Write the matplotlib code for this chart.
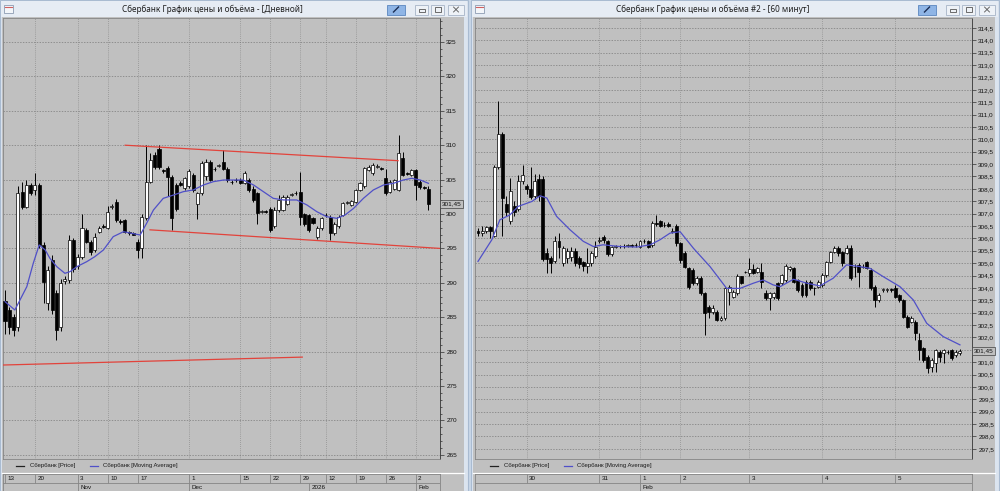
import numpy as np
import matplotlib.pyplot as plt
from matplotlib.patches import Rectangle
from matplotlib.ticker import MultipleLocator
from matplotlib.transforms import offset_copy, blended_transform_factory

plt.rcParams['font.family'] = ['Liberation Sans', 'DejaVu Sans']

# ---- daily candles (Oct 13 2025 .. Feb 5 2026, weekend sessions included) ----
day_open = [287.3, 286.0, 285.0, 283.6, 303.2, 301.0, 304.2, 303.5, 304.2, 295.5,
            287.0, 293.3, 288.5, 283.6, 290.2, 290.4, 296.2, 292.5, 293.8, 297.7,
            296.0, 294.8, 297.4, 298.2, 298.0, 301.0, 301.7, 299.0, 299.1, 297.4,
            297.2, 296.0, 295.0, 299.4, 304.7, 308.6, 309.5, 306.4, 306.7, 305.4,
            304.2, 304.5, 303.8, 304.0, 305.7, 301.5, 303.0, 305.5, 307.6, 306.6,
            307.0, 307.6, 306.6, 304.7, 304.9, 305.0, 304.5, 305.0, 303.7, 303.0,
            300.3, 300.4, 300.8, 298.2, 300.6, 300.6, 301.5, 302.8, 303.0, 303.2,
            300.0, 299.9, 299.4, 296.7, 297.9, 299.8, 299.6, 297.2, 298.2, 299.9,
            301.6, 301.3, 301.8, 303.5, 304.0, 306.4, 305.9, 306.9, 306.7, 305.2,
            303.2, 303.7, 303.5, 308.1, 305.9, 305.7, 306.4, 304.7, 303.9, 303.7]
day_high = [289.0, 286.5, 285.5, 304.0, 304.7, 305.0, 304.5, 306.0, 304.5, 296.0,
            292.5, 294.0, 289.0, 290.5, 291.0, 297.0, 296.5, 294.2, 300.0, 298.0,
            296.2, 297.2, 298.2, 298.5, 301.2, 301.4, 302.2, 299.3, 299.3, 297.6,
            297.4, 296.3, 300.0, 310.0, 308.8, 309.0, 310.0, 306.6, 307.0, 305.6,
            304.5, 304.8, 305.4, 306.5, 306.0, 303.2, 307.7, 308.0, 307.8, 306.8,
            307.3, 309.3, 306.9, 304.9, 305.2, 305.3, 306.2, 305.2, 304.0, 303.2,
            300.6, 300.6, 301.0, 301.0, 302.8, 302.8, 302.8, 303.1, 303.3, 306.1,
            300.2, 300.0, 299.6, 298.2, 299.6, 300.1, 299.8, 298.8, 299.9, 301.8,
            301.9, 302.1, 303.7, 304.7, 306.9, 307.1, 307.4, 307.3, 306.9, 306.6,
            305.0, 305.1, 311.5, 309.0, 306.1, 306.6, 306.6, 304.9, 304.1, 304.0]
day_low = [282.6, 282.5, 282.3, 283.0, 300.8, 300.9, 302.8, 302.8, 295.0, 287.0,
           286.0, 285.5, 281.7, 283.0, 289.8, 290.0, 291.5, 292.0, 293.5, 295.8,
           294.0, 294.5, 297.2, 297.9, 297.8, 300.8, 298.8, 298.6, 297.2, 297.0,
           296.9, 293.6, 293.6, 299.2, 304.5, 306.5, 306.5, 306.0, 302.6, 297.7,
           300.5, 304.0, 303.5, 303.8, 303.2, 299.3, 302.8, 305.0, 304.8, 306.3,
           306.8, 306.4, 304.6, 304.4, 304.7, 304.3, 304.3, 303.2, 301.8, 298.6,
           300.1, 300.1, 297.4, 298.0, 300.3, 300.4, 301.3, 302.6, 302.8, 298.4,
           298.3, 297.4, 298.5, 296.4, 297.7, 299.6, 296.2, 297.0, 298.0, 299.7,
           301.4, 301.1, 301.6, 303.3, 303.8, 306.2, 305.7, 306.7, 306.4, 302.8,
           303.0, 303.5, 303.3, 305.5, 305.6, 305.5, 302.0, 303.7, 303.6, 300.6]
day_close = [284.5, 283.6, 283.1, 303.0, 301.0, 304.2, 303.0, 304.2, 295.5, 290.1,
             291.9, 286.0, 283.1, 289.9, 290.5, 296.2, 292.0, 293.8, 298.0, 296.0,
             294.5, 296.7, 297.9, 298.1, 300.3, 301.1, 299.1, 298.9, 297.4, 297.2,
             297.0, 294.8, 299.6, 304.7, 307.8, 306.8, 306.8, 306.2, 305.4, 299.4,
             300.8, 304.2, 305.2, 306.2, 303.5, 303.0, 307.4, 307.6, 305.0, 306.5,
             307.1, 306.6, 304.9, 304.6, 305.0, 304.5, 305.9, 303.5, 302.0, 300.1,
             300.4, 300.3, 297.7, 300.6, 302.0, 302.5, 302.5, 302.9, 303.0, 299.6,
             298.6, 297.7, 298.7, 298.0, 299.4, 299.9, 297.2, 298.6, 299.6, 301.6,
             301.7, 301.9, 303.5, 304.5, 306.7, 306.9, 307.1, 307.0, 306.6, 303.0,
             304.7, 304.9, 308.8, 305.7, 305.8, 306.4, 304.2, 303.9, 303.8, 301.45]
day_ma_idx = [0, 2.3, 5.1, 6.6, 8.0, 9.4, 10.5, 12.1, 14.0, 15.2, 16.8, 19.1, 21.0,
              23.0, 25.3, 27.7, 29.6, 31.6, 33.1, 34.7, 37.0, 39.4, 41.7, 44.0, 46.4,
              48.7, 51.1, 52.6, 55.7, 58.1, 60.4, 62.7, 65.1, 68.2, 70.6, 72.9, 75.2,
              77.6, 79.5, 81.5, 83.8, 86.1, 88.5, 90.8, 93.1, 95.1, 97.1, 99.0]
day_ma_val = [287.26, 286.05, 289.44, 292.83, 295.5, 294.77, 293.56, 292.35, 291.38,
              291.62, 292.35, 293.07, 293.8, 294.77, 296.71, 297.43, 297.19, 296.95,
              298.64, 300.58, 302.28, 302.76, 303.25, 303.49, 304.22, 304.7, 304.94,
              304.94, 304.94, 304.22, 303.25, 302.28, 302.04, 302.04, 301.31, 300.34,
              299.61, 299.37, 299.86, 300.82, 302.28, 303.49, 304.22, 304.46, 304.94,
              305.19, 304.94, 304.46]
day_week_idx = [0, 7, 17, 24, 31, 43, 55, 62, 69, 75, 82, 89, 96]
day_week_lbl = ["13", "20", "3", "10", "17", "1", "15", "22", "29", "12", "19", "26", "2"]
day_month_idx = [17, 43, 71, 96]
day_month_lbl = ["Nov", "Dec", "2026", "Feb"]
# hand-drawn red trend lines: start/end candle and price
trend_idx = [(28.1, 91.9), (33.9, 101.7), (-0.5, 69.5)]
trend_val = [(310.0, 307.75), (297.7, 295.0), (278.05, 279.2)]

# ---- 60 minute candles (Jan 29 .. Feb 5) ----
hr_open = [306.28, 306.2, 306.28, 306.45, 306.1, 308.9, 310.2, 307.4, 306.7, 307.3,
           307.2, 308.3, 308.1, 308.0, 307.7, 308.4, 308.4, 305.4, 305.2, 305.1,
           305.88, 305.0, 305.2, 305.25, 305.5, 305.2, 305.05, 304.87, 305.0, 305.27,
           305.9, 306.05, 305.88, 305.35, 305.65, 305.68, 305.7, 305.7, 305.72, 305.73,
           305.67, 305.88, 305.88, 305.74, 306.62, 306.7, 306.55, 306.6, 306.27, 306.5,
           305.8, 305.4, 304.79, 304.72, 304.19, 304.39, 303.78, 303.24, 303.04, 303.04,
           302.7, 302.77, 303.85, 303.65, 303.78, 304.48, 304.66, 304.59, 304.75, 304.66,
           304.66, 303.78, 303.58, 303.65, 304.19, 304.19, 304.32, 304.75, 304.79, 304.32,
           304.12, 304.25, 304.25, 303.98, 304.05, 304.12, 304.52, 305.06, 305.46, 305.6,
           305.46, 305.4, 305.6, 304.86, 304.93, 304.86, 305.06, 304.72, 304.05, 303.51,
           303.92, 303.92, 303.95, 303.98, 303.71, 303.51, 302.84, 302.64, 302.64, 301.9,
           301.56, 301.22, 300.82, 300.95, 301.43, 301.36, 301.43, 301.49, 301.29, 301.36]
hr_high = [306.4, 306.48, 306.5, 306.5, 308.95, 311.55, 310.3, 307.7, 308.45, 307.5,
           308.55, 308.97, 308.2, 308.9, 308.6, 308.6, 308.5, 305.6, 305.3, 306.1,
           306.2, 305.7, 305.6, 305.65, 305.6, 305.3, 305.1, 305.6, 305.5, 305.9,
           306.05, 306.15, 305.95, 305.7, 305.75, 305.75, 305.76, 305.78, 305.78, 305.8,
           305.95, 305.96, 305.95, 306.7, 306.95, 306.75, 306.65, 306.65, 306.4, 306.6,
           305.85, 305.5, 304.86, 304.8, 304.5, 304.5, 303.85, 303.3, 303.3, 303.1,
           302.85, 304.05, 304.1, 303.9, 304.55, 304.5, 304.7, 305.2, 304.95, 304.86,
           304.99, 303.9, 303.85, 303.85, 304.25, 304.55, 304.95, 304.9, 304.85, 304.35,
           304.2, 304.3, 304.3, 304.05, 304.3, 304.6, 305.1, 305.5, 305.7, 305.7,
           305.5, 305.75, 305.75, 304.95, 305.0, 304.95, 305.1, 304.8, 304.1, 303.78,
           304.0, 304.0, 304.0, 304.1, 303.75, 303.55, 302.9, 302.85, 302.7, 302.17,
           301.6, 301.3, 301.15, 301.55, 301.5, 301.55, 301.5, 301.55, 301.5, 301.55]
hr_low = [306.1, 306.08, 306.2, 306.0, 306.05, 308.8, 306.1, 306.9, 306.6, 306.9,
          307.1, 308.2, 307.8, 307.6, 307.6, 307.5, 305.1, 304.6, 304.6, 305.0,
          305.2, 304.9, 305.0, 305.1, 304.9, 304.8, 304.7, 304.6, 304.9, 305.2,
          305.8, 305.8, 305.3, 305.3, 305.6, 305.62, 305.63, 305.64, 305.65, 305.66,
          305.6, 305.8, 305.6, 305.65, 306.5, 306.45, 306.45, 306.45, 306.2, 305.7,
          305.0, 304.8, 303.95, 304.1, 304.1, 303.7, 302.1, 302.8, 302.95, 302.65,
          302.65, 302.7, 303.3, 303.6, 303.7, 304.15, 304.6, 304.5, 304.55, 304.6,
          304.0, 303.5, 303.1, 303.55, 303.5, 304.1, 304.25, 304.7, 304.2, 303.85,
          303.65, 303.65, 303.9, 303.7, 304.0, 304.05, 304.45, 305.0, 305.4, 305.3,
          304.9, 305.35, 304.3, 304.45, 304.05, 304.8, 304.75, 303.9, 303.24, 303.45,
          303.85, 303.85, 303.85, 303.6, 303.45, 302.8, 302.4, 302.6, 301.9, 301.09,
          301.0, 300.55, 300.6, 300.6, 301.0, 300.95, 301.35, 301.1, 301.2, 301.3]
hr_close = [306.2, 306.28, 306.45, 306.3, 308.9, 310.2, 307.63, 307.05, 307.9, 307.05,
            308.3, 308.55, 308.0, 307.68, 308.3, 307.7, 305.15, 305.15, 305.0, 305.9,
            305.65, 305.6, 305.5, 305.5, 305.0, 304.95, 304.87, 305.0, 305.4, 305.67,
            305.95, 305.94, 305.35, 305.67, 305.7, 305.7, 305.68, 305.72, 305.7, 305.75,
            305.88, 305.9, 305.67, 306.62, 306.6, 306.5, 306.56, 306.5, 306.3, 305.8,
            305.13, 304.86, 304.05, 304.19, 304.39, 303.78, 302.97, 303.04, 303.2, 302.7,
            302.77, 303.98, 304.02, 303.85, 304.48, 304.21, 304.66, 304.75, 304.6, 304.79,
            304.25, 303.58, 303.78, 303.78, 303.58, 304.52, 304.89, 304.86, 304.25, 303.92,
            303.71, 303.71, 303.98, 303.98, 304.25, 304.52, 305.06, 305.46, 305.6, 305.4,
            304.99, 305.6, 304.39, 304.86, 304.66, 304.86, 304.79, 303.98, 303.51, 303.71,
            303.95, 303.95, 303.92, 303.65, 303.51, 302.84, 302.44, 302.77, 302.17, 301.49,
            301.09, 300.75, 301.09, 301.49, 301.22, 301.49, 301.43, 301.16, 301.43, 301.45]
hr_ma_idx = [0, 3.4, 5.4, 7.9, 9.9, 13.3, 15.3, 17.0, 19.4, 22.7, 26.0, 28.5, 30.9,
             35.1, 39.2, 42.5, 44.9, 47.4, 49.9, 53.2, 57.3, 61.4, 64.7, 68.0, 70.4,
             72.9, 74.6, 77.9, 81.2, 84.4, 87.7, 91.0, 94.3, 96.8, 100.1, 104.2, 107.5,
             110.8, 114.9, 119.0]
hr_ma_val = [305.07, 305.94, 306.75, 306.95, 307.29, 307.49, 307.72, 307.63, 306.89,
             306.35, 305.88, 305.67, 305.74, 305.67, 305.65, 305.74, 305.94, 306.21,
             306.27, 305.6, 304.86, 303.98, 303.98, 304.19, 304.32, 304.12, 304.05,
             304.35, 304.19, 304.08, 304.39, 304.93, 304.86, 304.79, 304.45, 304.05,
             303.51, 302.57, 302.03, 301.7]
hr_day_idx = [12, 30, 40, 50, 67, 85, 103]
hr_day_lbl = ["30", "31", "1", "2", "3", "4", "5"]
hr_month_idx = [40]
hr_month_lbl = ["Feb"]

W, H = 1000, 491
PLOT_BG = '#c0c0c0'
GRID = '#7a7a7a'
MA_COL = '#5050c8'
TREND = '#e2433b'
LINE = '#858585'

fig = plt.figure(figsize=(W / 100, H / 100), dpi=100)
fig.patch.set_facecolor('#c9d7e8')


def rect(x0, y0, x1, y1):
    return [x0 / W, 1 - y1 / H, (x1 - x0) / W, (y1 - y0) / H]


bg = fig.add_axes([0, 0, 1, 1])
bg.set_xlim(0, W)
bg.set_ylim(H, 0)
bg.axis('off')


def window(x0, x1, title):
    bg.add_patch(Rectangle((x0, 0), x1 - x0, H, fc='#dbe4ef', ec='#a9bbd1', lw=0.8))
    bg.add_patch(Rectangle((x0 + 1, 1), x1 - x0 - 2, 16, fc='#e6ecf4', ec='none'))
    bg.add_patch(Rectangle((x0 + 2, 17), x1 - x0 - 6, H - 17, fc=PLOT_BG, ec='none'))
    bg.text((x0 + x1) / 2 - 22, 9.5, title, ha='center', va='center', fontsize=5.9,
            family=['Noto Sans', 'DejaVu Sans'], color='#202020')
    # window icon
    bg.add_patch(Rectangle((x0 + 4, 4.5), 9, 8, fc='#f3f6fa', ec='#8d9cb2', lw=0.6))
    bg.plot([x0 + 5, x0 + 12], [6.5, 6.5], color='#d06060', lw=0.8)
    # title buttons
    bx = [(x1 - 81, x1 - 63), (x1 - 53, x1 - 40), (x1 - 37, x1 - 24), (x1 - 20, x1 - 4)]
    for k, (a, b) in enumerate(bx):
        fc, ec = ('#8fb5e6', '#5b86bf') if k == 0 else ('#eef2f7', '#a6b4c7')
        bg.add_patch(Rectangle((a, 4.5), b - a, 10, fc=fc, ec=ec, lw=0.6))
        cx = (a + b) / 2
        if k == 0:
            bg.plot([cx - 2.5, cx + 2.5], [12, 7], color='#1b2d55', lw=1.0)
        elif k == 1:
            bg.add_patch(Rectangle((cx - 3, 9), 6, 2.5, fc='none', ec='#555555', lw=0.6))
        elif k == 2:
            bg.add_patch(Rectangle((cx - 3, 7), 6, 5, fc='none', ec='#555555', lw=0.6))
        else:
            bg.plot([cx - 2.5, cx + 2.5], [7, 12], color='#555555', lw=0.6)
            bg.plot([cx - 2.5, cx + 2.5], [12, 7], color='#555555', lw=0.6)
    bg.plot([x0 + 2, x1 - 4], [472.5, 472.5], color='white', lw=0.9)


def legend_row(xa, xb):
    y = 466
    bg.plot([xa - 14, xa - 6], [y, y], color='#222222', lw=0.9)
    bg.text(xa, y, 'Сбербанк [Price]', fontsize=4.3, va='center', ha='left', color='#1a1a1a')
    bg.plot([xb - 13, xb - 5], [y, y], color=MA_COL, lw=0.9)
    bg.text(xb, y, 'Сбербанк [Moving Average]', fontsize=4.3, va='center', ha='left',
            color='#1a1a1a')


def chart(r, o, h, l, c, xlim, ylim, yticks, fmt, minor, grid_idx, ma_i, ma_v):
    ax = fig.add_axes(rect(*r))
    ax.set_facecolor(PLOT_BG)
    o, h, l, c = (np.asarray(v, float) for v in (o, h, l, c))
    x = np.arange(len(o))
    up = c >= o
    ax.vlines(x, l, h, color='black', lw=0.7, zorder=3)
    ax.bar(x[up], c[up] - o[up], bottom=o[up], width=0.72, color='white',
           edgecolor='black', linewidth=0.5, zorder=4)
    ax.bar(x[~up], o[~up] - c[~up], bottom=c[~up], width=0.72, color='black',
           edgecolor='black', linewidth=0.5, zorder=4)
    ax.plot(ma_i, ma_v, color=MA_COL, lw=0.9, zorder=5)
    ax.set_xlim(*xlim)
    ax.set_ylim(*ylim)
    step = yticks[1] - yticks[0]
    labels = ['' if abs(v - c[-1]) < 0.2 * step else fmt(v) for v in yticks]
    ax.set_yticks(yticks)
    ax.set_yticklabels(labels)
    ax.yaxis.tick_right()
    if minor:
        ax.yaxis.set_minor_locator(MultipleLocator(minor))
    ax.tick_params(axis='y', which='major', direction='out', length=3, width=0.5,
                   pad=1.5, labelsize=4.6, color='#303030', labelcolor='#111111')
    ax.tick_params(axis='y', which='minor', direction='out', length=1.5, width=0.5,
                   color='#303030')
    ax.set_xticks([])
    ax.set_axisbelow(True)
    ax.grid(axis='y', color=GRID, ls=(0, (2, 2)), lw=0.5)
    for g in grid_idx:
        ax.axvline(g, color=GRID, ls=(0, (1, 2)), lw=0.5, zorder=1)
    for side in ('left', 'top', 'bottom'):
        ax.spines[side].set_color(LINE)
        ax.spines[side].set_linewidth(0.6)
    ax.spines['right'].set_color('#333333')
    ax.spines['right'].set_linewidth(0.6)
    tr = offset_copy(blended_transform_factory(ax.transAxes, ax.transData), fig=fig,
                     x=2, units='dots')
    ax.text(1.0, c[-1], f"{c[-1]:.2f}".replace('.', ','),
            transform=tr, ha='left', va='center', fontsize=4.6, color='#111111',
            bbox=dict(boxstyle='square,pad=0.25', fc=PLOT_BG, ec='#404040', lw=0.5),
            clip_on=False, zorder=10)
    return ax


def date_axis(ax, r, wi, wl, mi, ml):
    dax = fig.add_axes(rect(*r), sharex=ax)
    dax.set_facecolor(PLOT_BG)
    dax.set_ylim(2, 0)
    dax.axhline(1, color=LINE, lw=0.6)
    dax.vlines(wi, 0, 1, color=LINE, lw=0.6)
    dax.vlines(mi, 1, 2, color=LINE, lw=0.6)
    tr = offset_copy(dax.transData, fig=fig, x=2.5, units='dots')
    for i, s in zip(wi, wl):
        dax.text(i, 0.55, s, transform=tr, fontsize=4.5, va='center', ha='left',
                 color='#111111')
    for i, s in zip(mi, ml):
        dax.text(i, 1.55, s, transform=tr, fontsize=4.5, va='center', ha='left',
                 color='#111111')
    dax.tick_params(bottom=False, left=False, labelbottom=False, labelleft=False)
    for sp in dax.spines.values():
        sp.set_color(LINE)
        sp.set_linewidth(0.6)
    return dax


window(0, 468, 'Сбербанк График цены и объёма - [Дневной]')
window(471, 999, 'Сбербанк График цены и объёма #2 - [60 минут]')
legend_row(30, 103)
legend_row(504, 577)

# daily chart
axL = chart((3, 18, 440, 459), day_open, day_high, day_low, day_close,
            (-0.47, 101.7), (264.39, 328.49), np.arange(265, 326, 5),
            lambda v: f"{v:.0f}", 1, day_week_idx[1:], day_ma_idx, day_ma_val)
for (i0, i1), (p0, p1) in zip(trend_idx, trend_val):
    axL.plot([i0, i1], [p0, p1], color=TREND, lw=0.9, zorder=6)
date_axis(axL, (3, 474, 440, 491), day_week_idx, day_week_lbl, day_month_idx, day_month_lbl)

# hourly chart
axR = chart((475, 18, 972, 459), hr_open, hr_high, hr_low, hr_close,
            (-0.74, 121.98), (297.09, 314.9), np.arange(297.5, 314.51, 0.5),
            lambda v: f"{v:.1f}".replace('.', ','), None, hr_day_idx, hr_ma_idx, hr_ma_val)
date_axis(axR, (475, 474, 972, 491), hr_day_idx, hr_day_lbl, hr_month_idx, hr_month_lbl)

fig.savefig('out.png', dpi=100, facecolor=fig.get_facecolor())
